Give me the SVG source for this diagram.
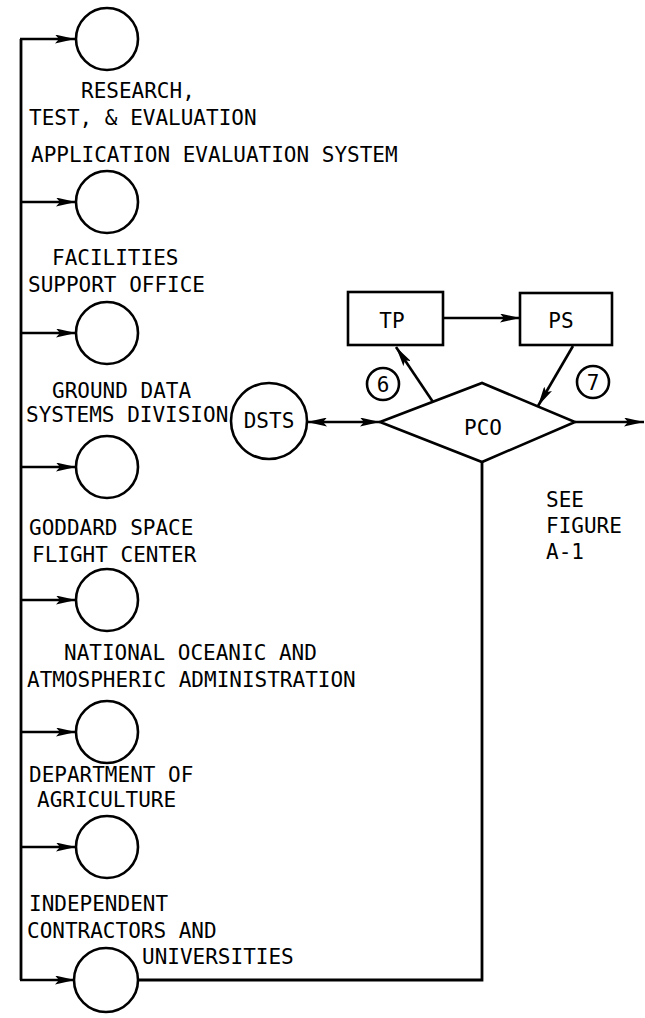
<svg xmlns="http://www.w3.org/2000/svg" width="645" height="1018" viewBox="0 0 645 1018">
<style>
.t{font-family:"DejaVu Sans Mono","Liberation Mono",monospace;font-size:21px;fill:#000}
.c{text-anchor:middle}
.n{fill:#fff;stroke:#000;stroke-width:2.6}
.l{fill:none;stroke:#000;stroke-width:2.8}
.a{fill:none;stroke:#000;stroke-width:2.6;marker-end:url(#ah)}
</style>
<defs>
<marker id="ah" markerUnits="userSpaceOnUse" viewBox="0 0 20 9" refX="20" refY="4.5" markerWidth="20" markerHeight="9" orient="auto-start-reverse">
<path d="M0,0 L20,4.5 L0,9 L4,4.5 Z" fill="#000"/>
</marker>
</defs>
<rect width="645" height="1018" fill="#fff"/>
<g id="connectors">
<path class="l" d="M482,462 V980 H138"/>
<path class="l" d="M21,980 V39"/>
<line class="a" x1="20" y1="39" x2="75" y2="39"/>
<line class="a" x1="21" y1="202" x2="76" y2="202"/>
<line class="a" x1="21" y1="333" x2="76" y2="333"/>
<line class="a" x1="21" y1="467" x2="76" y2="467"/>
<line class="a" x1="21" y1="600" x2="76" y2="600"/>
<line class="a" x1="21" y1="732" x2="76" y2="732"/>
<line class="a" x1="21" y1="847" x2="76" y2="847"/>
<line class="a" x1="20" y1="980" x2="75" y2="980"/>
<line class="a" x1="307" y1="422" x2="380" y2="422" style="marker-start:url(#ah)"/>
<line class="a" x1="443" y1="318" x2="520" y2="318"/>
<line class="a" x1="433" y1="402" x2="396" y2="347"/>
<line class="a" x1="573" y1="346" x2="538" y2="406"/>
<line class="a" x1="575" y1="422" x2="644" y2="422"/>
</g>
<g id="n1"><circle class="n" cx="107" cy="39" r="31"/><text class="t" x="81" y="98">RESEARCH,</text><text class="t" x="29" y="125">TEST, &amp; EVALUATION</text></g>
<g id="n2"><circle class="n" cx="107" cy="202" r="31"/><text class="t" x="31" y="162">APPLICATION EVALUATION SYSTEM</text></g>
<g id="n3"><circle class="n" cx="107" cy="333" r="31"/><text class="t" x="52" y="265">FACILITIES</text><text class="t" x="28" y="292">SUPPORT OFFICE</text></g>
<g id="n4"><circle class="n" cx="107" cy="467" r="31"/><text class="t" x="52" y="398">GROUND DATA</text><text class="t" x="26" y="422">SYSTEMS DIVISION</text></g>
<g id="n5"><circle class="n" cx="107" cy="600" r="31"/><text class="t" x="29" y="535">GODDARD SPACE</text><text class="t" x="32" y="562">FLIGHT CENTER</text></g>
<g id="n6"><circle class="n" cx="107" cy="732" r="31"/><text class="t" x="64" y="660">NATIONAL OCEANIC AND</text><text class="t" x="27" y="687">ATMOSPHERIC ADMINISTRATION</text></g>
<g id="n7"><circle class="n" cx="107" cy="847" r="31"/><text class="t" x="29" y="782">DEPARTMENT OF</text><text class="t" x="37" y="807">AGRICULTURE</text></g>
<g id="n8"><circle class="n" cx="106" cy="980" r="32"/><text class="t" x="29" y="911">INDEPENDENT</text><text class="t" x="27" y="938">CONTRACTORS AND</text><text class="t" x="142" y="964">UNIVERSITIES</text></g>
<g id="dsts"><circle class="n" cx="269" cy="421" r="38"/><text class="t c" x="269" y="428">DSTS</text></g>
<g id="pco"><path class="n" d="M380,422 L482,383 L575,422 L482,462 Z"/><text class="t c" x="483" y="435">PCO</text></g>
<g id="tp"><rect class="n" x="348" y="292" width="95" height="53"/><text class="t c" x="392" y="328">TP</text></g>
<g id="ps"><rect class="n" x="520" y="293" width="92" height="52"/><text class="t c" x="561" y="328">PS</text></g>
<g id="lbl6"><circle class="n" cx="383" cy="384" r="16"/><text class="t c" x="383" y="392">6</text></g>
<g id="lbl7"><circle class="n" cx="593" cy="382" r="16"/><text class="t c" x="593" y="390">7</text></g>
<g id="see"><text class="t" x="546" y="507">SEE</text><text class="t" x="546" y="533">FIGURE</text><text class="t" x="546" y="559">A-1</text></g>
</svg>
